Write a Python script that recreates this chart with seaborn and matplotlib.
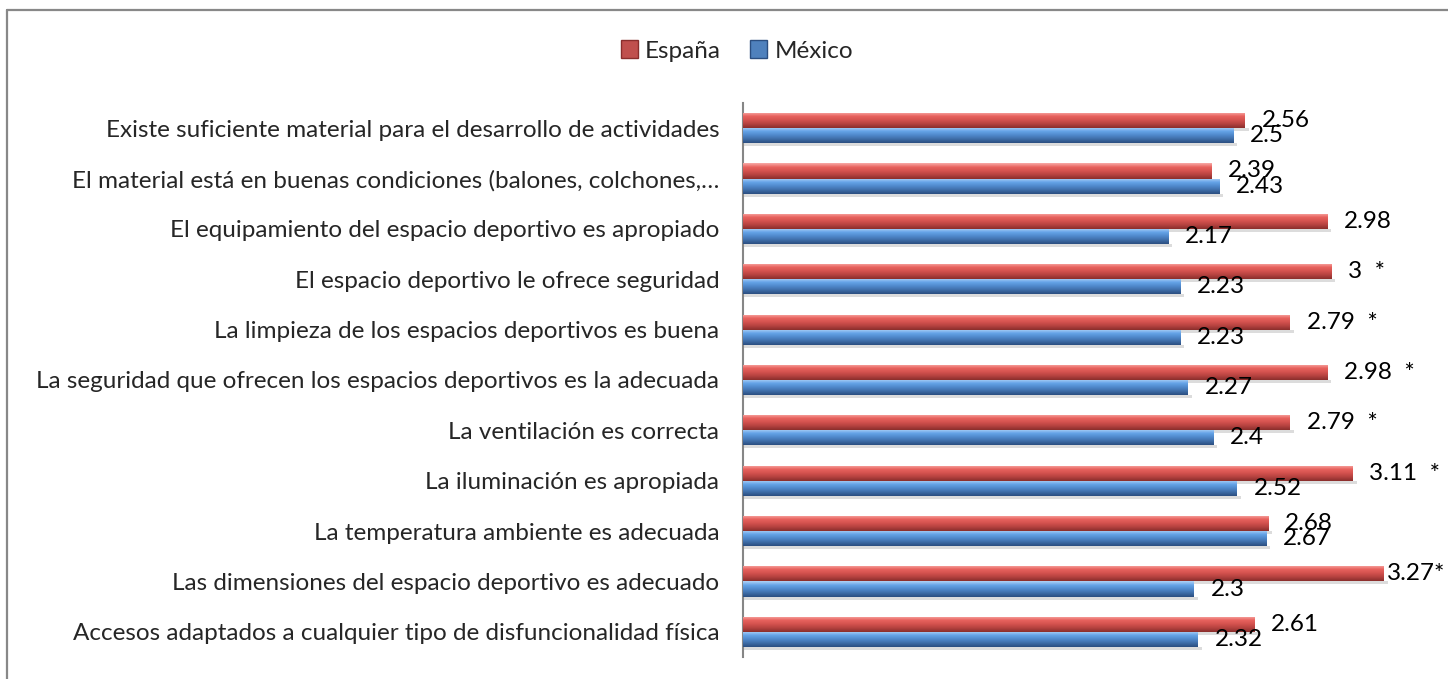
import numpy as np
import pandas as pd
import seaborn as sns
import matplotlib.pyplot as plt
from matplotlib.colors import LinearSegmentedColormap
from matplotlib.lines import Line2D
from matplotlib.patches import Patch

# Items of the questionnaire (top to bottom)
categories = [
    "Existe suficiente material para el desarrollo de actividades",
    "El material está en buenas condiciones (balones, colchones,…",
    "El equipamiento del espacio deportivo es apropiado",
    "El espacio deportivo le ofrece seguridad",
    "La limpieza de los espacios deportivos es buena",
    "La seguridad que ofrecen los espacios deportivos es la adecuada",
    "La ventilación es correcta",
    "La iluminación es apropiada",
    "La temperatura ambiente es adecuada",
    "Las dimensiones del espacio deportivo es adecuado",
    "Accesos adaptados a cualquier tipo de disfuncionalidad física",
]

espana = [2.56, 2.39, 2.98, 3.00, 2.79, 2.98, 2.79, 3.11, 2.68, 3.27, 2.61]
mexico = [2.50, 2.43, 2.17, 2.23, 2.23, 2.27, 2.40, 2.52, 2.67, 2.30, 2.32]

espana_labels = ["2.56", "2.39", "2.98", "3  *", "2.79  *", "2.98  *",
                 "2.79  *", "3.11  *", "2.68", "3.27*", "2.61"]
mexico_labels = ["2.5", "2.43", "2.17", "2.23", "2.23", "2.27",
                 "2.4", "2.52", "2.67", "2.3", "2.32"]

series = ["España", "México"]

df = pd.DataFrame({
    "item": categories * 2,
    "valor": espana + mexico,
    "pais": [series[0]] * len(categories) + [series[1]] * len(categories),
})

sns.set_style("white")
plt.rcParams["font.family"] = ["Lato", "DejaVu Sans"]
FS = 17.5

W, H = 1448, 679
fig = plt.figure(figsize=(W / 100, H / 100), dpi=100)
ax = fig.add_axes([743 / W, 1 - 657 / H, 690 / W, 554 / H])

red = "#C0504D"
blue = "#4F81BD"
sns.barplot(data=df, x="valor", y="item", hue="pais", hue_order=series,
            palette=[red, blue], orient="h", width=0.6, ax=ax,
            edgecolor="none", legend=False)

# 3D-ish gradient on each bar (Excel 2007 style)
grads = {
    series[0]: LinearSegmentedColormap.from_list(
        "r", ["#F8AAA7", "#E8625E", "#D4524E", "#B4423F", "#8A2E2C"]),
    series[1]: LinearSegmentedColormap.from_list(
        "b", ["#B0D2F6", "#66A4E8", "#5089CC", "#3F6DA8", "#2B4E80"]),
}
grad_img = np.linspace(0, 1, 64).reshape(-1, 1)
n = len(categories)
texts = []
for cont, name, labels in zip(ax.containers, series, [espana_labels, mexico_labels]):
    for bar, lab in zip(cont, labels):
        x0, y0 = bar.get_x(), bar.get_y()
        w, h = bar.get_width(), bar.get_height()
        # soft shadow under the bar
        ax.fill_between([x0, x0 + w + 0.02], y0 + h, y0 + h + 0.06,
                        color="#dcdcdc", lw=0, zorder=1)
        im = ax.imshow(grad_img, extent=[x0, x0 + w, y0 + h, y0],
                       cmap=grads[name], aspect="auto", zorder=3,
                       interpolation="bilinear")
        im.set_clip_path(bar)
        t = ax.annotate(lab, (x0 + w, y0 + h / 2), xytext=(12, 0),
                        textcoords="offset points", va="center", ha="left",
                        fontsize=FS, color="black", zorder=5)
        texts.append(t)

ax.set_xlim(0, 3.52)
ax.set_ylim(n - 0.5, -0.5)
ax.set_xlabel("")
ax.set_ylabel("")
ax.set_xticks([])
ax.tick_params(axis="y", length=0, pad=17, labelsize=FS)
for s in ["top", "right", "bottom"]:
    ax.spines[s].set_visible(False)
ax.spines["left"].set_color("#868686")
ax.spines["left"].set_linewidth(1.5)

# pull labels that would run off the right edge back inside
fig.canvas.draw()
rend = fig.canvas.get_renderer()
for t in texts:
    bb = t.get_window_extent(rend)
    over = bb.x1 - (W - 3)
    if over > 0:
        ox, oy = t.xyann
        t.xyann = (ox - over * 72 / 100, oy)

# legend at the top
handles = [Patch(facecolor=red, edgecolor="#8A2E2C", label=series[0]),
           Patch(facecolor=blue, edgecolor="#2B4E80", label=series[1])]
fig.legend(handles=handles, loc="center", bbox_to_anchor=(737 / W, 1 - 51 / H),
           ncol=2, frameon=False, fontsize=FS, handlelength=0.7,
           handleheight=0.7, handletextpad=0.3, columnspacing=1.2)

# outer chart frame (left and top edges visible)
fig.add_artist(Line2D([7 / W, 7 / W], [0, 1 - 10 / H], color="#888888", lw=1.6))
fig.add_artist(Line2D([7 / W, 1], [1 - 10 / H, 1 - 10 / H], color="#888888", lw=1.6))

fig.savefig("out.png", dpi=100)
